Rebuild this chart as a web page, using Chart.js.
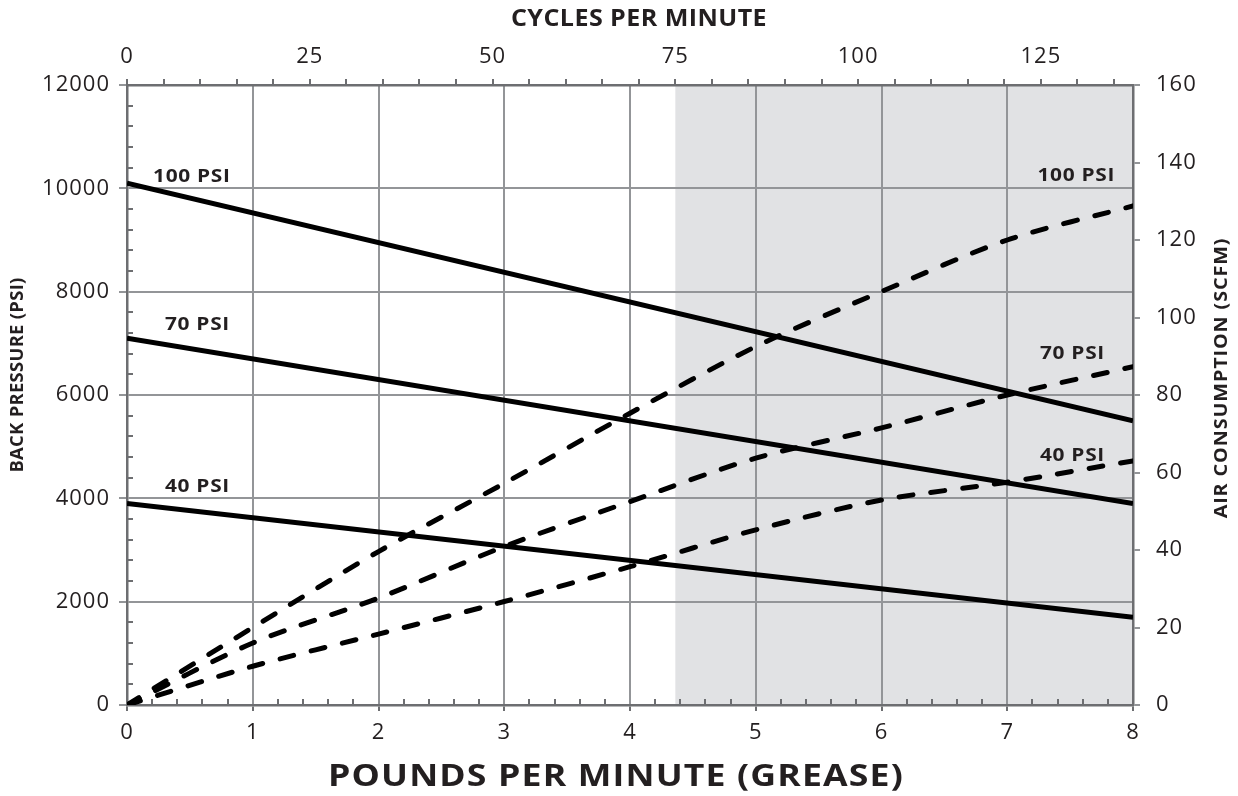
<!DOCTYPE html>
<html lang="en">
<head>
    <meta charset="UTF-8">
    <title>Back Pressure / Air Consumption</title>
    <script src="https://cdn.jsdelivr.net/npm/chart.js"></script>
    <style>
        html, body { margin: 0; padding: 0; background: #fff; }
        #wrap { width: 1238px; height: 796px; }
    </style>
</head>
<body>
    <div id="wrap"><canvas id="chart"></canvas></div>

    <script>
        // pounds per minute (grease)
        const lbsPerMin = [0, 1, 2, 3, 4, 5, 6, 7, 8];
        const solidX = [0, 8];

        // back pressure (psi) - left axis, solid lines
        const back100 = [10100, 5500];
        const back70 = [7100, 3900];
        const back40 = [3900, 1700];

        // air consumption (scfm) - right axis, dashed lines
        const air100 = [0, 20, 39.6, 57.2, 75.3, 92.5, 106.7, 120, 128.8];
        const air70 = [0, 16, 27.6, 40.9, 52.5, 63.7, 71.5, 80, 87.3];
        const air40 = [0, 10, 18.3, 26.7, 35.7, 45.2, 52.9, 57.5, 63];

        const cyclesMax = 137.6;   // cycles per minute at 8 lb/min
        const shadeFromCycles = 75;

        const lineLabels = [
            { text: '100 PSI', x: 0.207, y: 10219, axis: 'y', align: 'left' },
            { text: '70 PSI', x: 0.302, y: 7355, axis: 'y', align: 'left' },
            { text: '40 PSI', x: 0.302, y: 4219, axis: 'y', align: 'left' },
            { text: '100 PSI', x: 7.857, y: 136.5, axis: 'y2', align: 'right' },
            { text: '70 PSI', x: 7.777, y: 90.6, axis: 'y2', align: 'right' },
            { text: '40 PSI', x: 7.777, y: 64.3, axis: 'y2', align: 'right' }
        ];

        const FONT = '"Open Sans", "Noto Sans", sans-serif';
        const TEXT = '#231f20';
        const GRID = '#939598';
        const AXIS = '#6d6e71';

        function pairs(xs, ys) {
            return xs.map((x, i) => ({ x: x, y: ys[i] }));
        }

        function solid(label, ys) {
            return {
                label: label, data: pairs(solidX, ys), yAxisID: 'y', xAxisID: 'x',
                borderColor: '#000', borderWidth: 5, pointRadius: 0, fill: false
            };
        }

        function dashed(label, ys) {
            return {
                label: label, data: pairs(lbsPerMin, ys), yAxisID: 'y2', xAxisID: 'x',
                borderColor: '#000', borderWidth: 5, borderDash: [14, 18],
                borderCapStyle: 'round', pointRadius: 0, fill: false, tension: 0.3
            };
        }

        // text a little wider than the installed font, like the original
        function text(ctx, str, x, y, font, spacing, stretch, rot) {
            ctx.save();
            ctx.translate(x, y);
            if (rot) ctx.rotate(rot);
            ctx.scale(stretch, 1);
            ctx.font = font;
            ctx.letterSpacing = spacing + 'px';
            ctx.fillText(str, 0, 0);
            ctx.restore();
        }

        const shadePlugin = {
            id: 'shade',
            beforeDraw(chart) {
                const ctx = chart.ctx, a = chart.chartArea;
                ctx.save();
                ctx.fillStyle = '#fff';
                ctx.fillRect(0, 0, chart.width, chart.height);
                const x0 = chart.scales.x2.getPixelForValue(shadeFromCycles);
                ctx.fillStyle = '#e1e2e4';
                ctx.fillRect(x0, a.top, a.right - x0, a.bottom - a.top);
                ctx.restore();
                ctx.letterSpacing = '1px';
            }
        };

        const extrasPlugin = {
            id: 'extras',
            afterDatasetsDraw(chart) {
                const ctx = chart.ctx, a = chart.chartArea;
                const sx = chart.scales.x, sy = chart.scales.y;
                ctx.save();
                // minor ticks, inside the plot
                ctx.strokeStyle = AXIS;
                ctx.lineWidth = 2;
                ctx.beginPath();
                for (let v = 400; v < 12000; v += 400) {
                    if (v % 2000 === 0) continue;
                    const y = Math.round(sy.getPixelForValue(v));
                    ctx.moveTo(a.left, y);
                    ctx.lineTo(a.left + 6, y);
                }
                for (let i = 1; i < 40; i++) {
                    if (i % 5 === 0) continue;
                    const x = Math.round(sx.getPixelForValue(i / 5));
                    ctx.moveTo(x, a.bottom);
                    ctx.lineTo(x, a.bottom - 6);
                }
                ctx.stroke();

                // line labels
                ctx.fillStyle = TEXT;
                ctx.textBaseline = 'middle';
                lineLabels.forEach(l => {
                    ctx.textAlign = l.align;
                    text(ctx, l.text, sx.getPixelForValue(l.x), chart.scales[l.axis].getPixelForValue(l.y),
                        'bold 18px ' + FONT, 0.6, 1.16);
                });

                // axis titles
                ctx.textAlign = 'center';
                text(ctx, 'CYCLES PER MINUTE', 639, 19, 'bold 23px ' + FONT, 0.4, 1.09);
                text(ctx, 'POUNDS PER MINUTE (GREASE)', 616, 777, 'bold 31px ' + FONT, 1, 1.15);
                text(ctx, 'BACK PRESSURE (PSI)', 18, 375, 'bold 17px ' + FONT, 0.3, 1.08, -Math.PI / 2);
                text(ctx, 'AIR CONSUMPTION (SCFM)', 1222, 378, 'bold 18px ' + FONT, 0.8, 1.1, -Math.PI / 2);
                ctx.restore();
            }
        };

        const tickFont = { family: FONT, size: 22 };
        const border = { display: true, color: AXIS, width: 2.5 };
        const plain = v => String(v);

        new Chart(document.getElementById('chart'), {
            type: 'line',
            data: {
                datasets: [
                    solid('100 PSI', back100),
                    solid('70 PSI', back70),
                    solid('40 PSI', back40),
                    dashed('100 PSI air', air100),
                    dashed('70 PSI air', air70),
                    dashed('40 PSI air', air40)
                ]
            },
            options: {
                responsive: true,
                maintainAspectRatio: false,
                animation: false,
                layout: { padding: 0 },
                plugins: { legend: { display: false }, tooltip: { enabled: false } },
                scales: {
                    x: {
                        type: 'linear', position: 'bottom', min: 0, max: 8,
                        ticks: { stepSize: 1, color: TEXT, font: tickFont, padding: 9, callback: plain },
                        grid: { color: GRID, lineWidth: 2, tickLength: 6, tickColor: AXIS },
                        border: border,
                        afterFit: s => { s.height = 91; }
                    },
                    x2: {
                        type: 'linear', position: 'top', min: 0, max: cyclesMax,
                        ticks: {
                            stepSize: 5, autoSkip: false, includeBounds: false, maxRotation: 0,
                            color: TEXT, font: tickFont, padding: 9,
                            callback: v => (v % 25 === 0 ? String(v) : '')
                        },
                        grid: { drawOnChartArea: false, color: AXIS, lineWidth: 2, tickLength: 6 },
                        border: border,
                        afterFit: s => { s.height = 85; }
                    },
                    y: {
                        type: 'linear', position: 'left', min: 0, max: 12000,
                        ticks: { stepSize: 2000, color: TEXT, font: tickFont, padding: 9, callback: plain },
                        grid: { color: GRID, lineWidth: 2, tickLength: 8, tickColor: GRID },
                        border: border,
                        afterFit: s => { s.width = 127; }
                    },
                    y2: {
                        type: 'linear', position: 'right', min: 0, max: 160,
                        ticks: { stepSize: 20, color: TEXT, font: tickFont, padding: 16, callback: plain },
                        grid: { drawOnChartArea: false, color: GRID, lineWidth: 2, tickLength: 7 },
                        border: border,
                        afterFit: s => { s.width = 105; }
                    }
                }
            },
            plugins: [shadePlugin, extrasPlugin]
        });
    </script>
</body>
</html>
